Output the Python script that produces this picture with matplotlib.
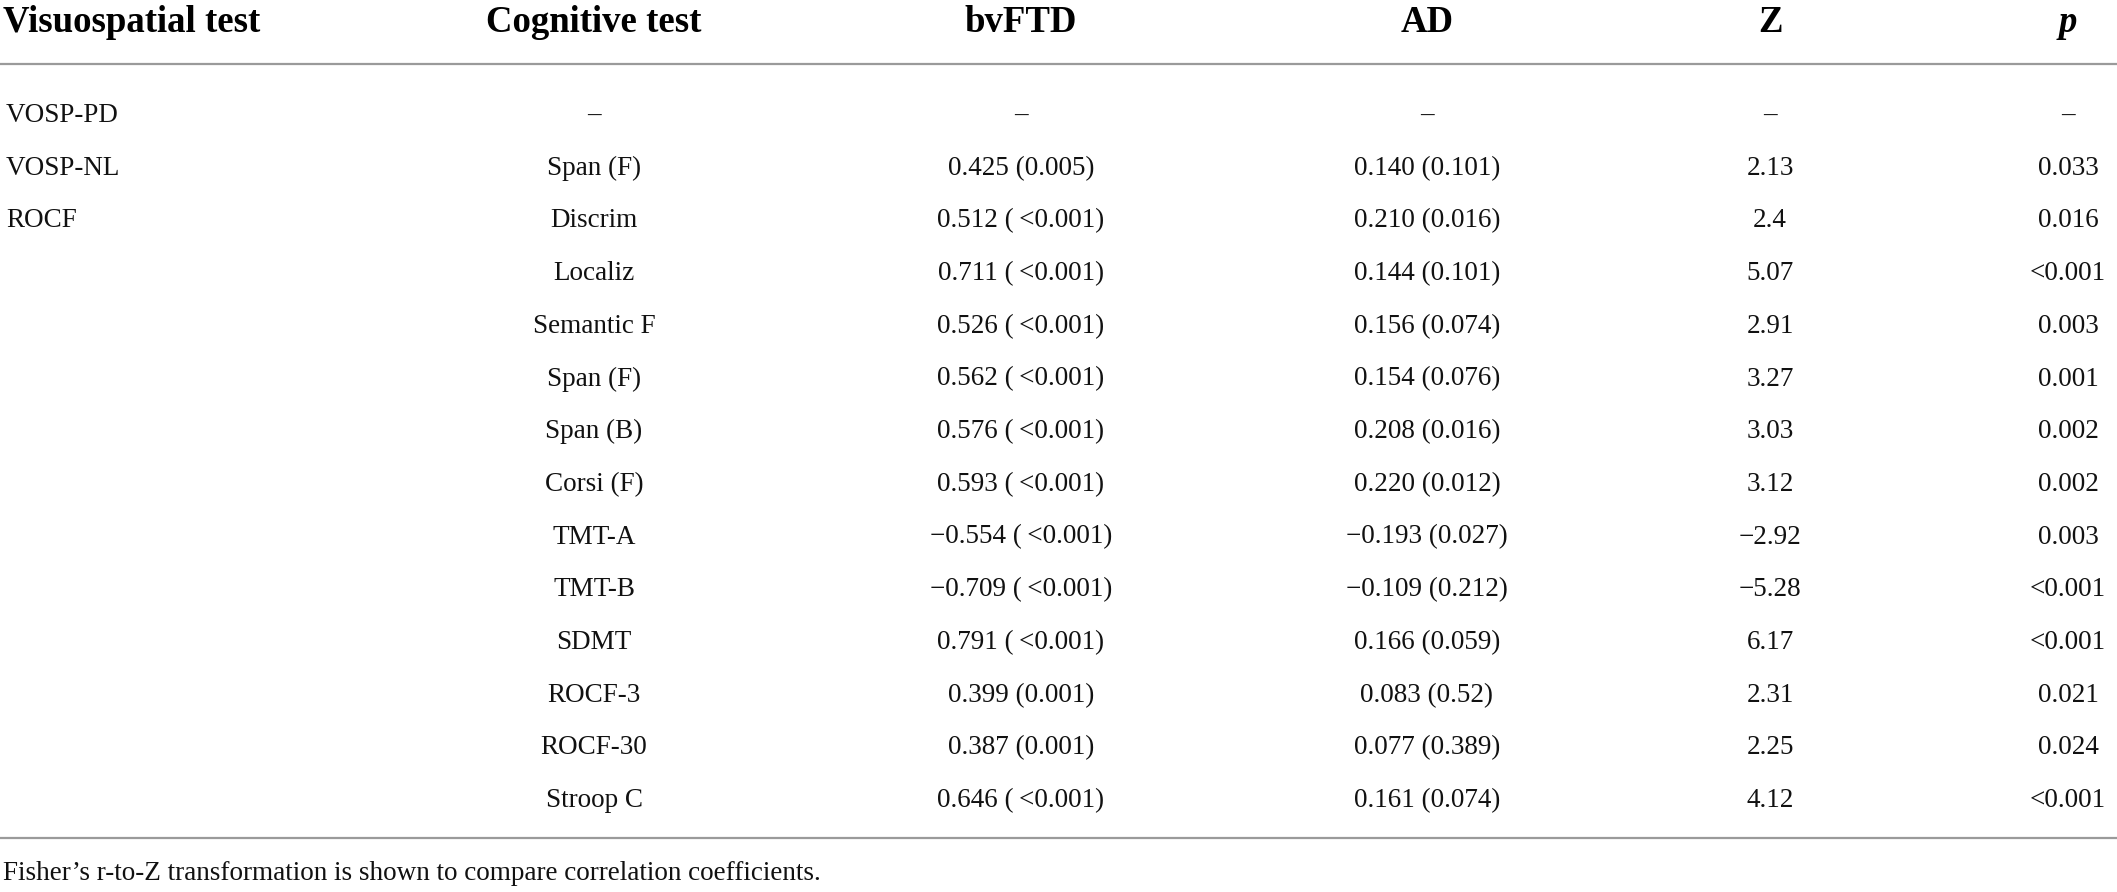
import matplotlib
matplotlib.use('Agg')
import matplotlib.pyplot as plt

# Table content
headers = ['Visuospatial test', 'Cognitive test', 'bvFTD', 'AD', 'Z', 'p']
visuo = ['VOSP-PD', 'VOSP-NL', 'ROCF', '', '', '', '', '', '', '', '', '', '', '']
cognitive = ['–', 'Span (F)', 'Discrim', 'Localiz', 'Semantic F', 'Span (F)', 'Span (B)',
             'Corsi (F)', 'TMT-A', 'TMT-B', 'SDMT', 'ROCF-3', 'ROCF-30', 'Stroop C']
bvftd = ['–', '0.425 (0.005)', '0.512 (\u2009<0.001)', '0.711 (\u2009<0.001)',
         '0.526 (\u2009<0.001)', '0.562 (\u2009<0.001)', '0.576 (\u2009<0.001)',
         '0.593 (\u2009<0.001)', '\u22120.554 (\u2009<0.001)', '\u22120.709 (\u2009<0.001)',
         '0.791 (\u2009<0.001)', '0.399 (0.001)', '0.387 (0.001)', '0.646 (\u2009<0.001)']
ad = ['–', '0.140 (0.101)', '0.210 (0.016)', '0.144 (0.101)', '0.156 (0.074)',
      '0.154 (0.076)', '0.208 (0.016)', '0.220 (0.012)', '\u22120.193 (0.027)',
      '\u22120.109 (0.212)', '0.166 (0.059)', '0.083 (0.52)', '0.077 (0.389)',
      '0.161 (0.074)']
z_vals = ['–', '2.13', '2.4', '5.07', '2.91', '3.27', '3.03', '3.12', '\u22122.92',
          '\u22125.28', '6.17', '2.31', '2.25', '4.12']
p_vals = ['–', '0.033', '0.016', '<0.001', '0.003', '0.001', '0.002', '0.002', '0.003',
          '<0.001', '<0.001', '0.021', '0.024', '<0.001']
footnote = 'Fisher\u2019s r-to-Z transformation is shown to compare correlation coefficients.'

W, H = 2117, 892
fig = plt.figure(figsize=(W / 100, H / 100), dpi=100)
ax = fig.add_axes([0, 0, 1, 1])
ax.set_xlim(0, W)
ax.set_ylim(H, 0)
ax.axis('off')

font = 'Liberation Serif'
body_size = 19.5
head_size = 26.5
col_x = [3, 594, 1021, 1427, 1770, 2068]
col_ha = ['left', 'center', 'center', 'center', 'center', 'center']

# header row
for h, x, ha in zip(headers, col_x, col_ha):
    style = 'italic' if h == 'p' else 'normal'
    ax.text(x, 32, h, ha=ha, va='baseline', fontsize=head_size, fontweight='bold',
            fontstyle=style, family=font)

ax.axhline(64, color='#9a9a9a', lw=1.6)

# body rows (baselines)
row_y0, row_step = 122, 52.7
columns = [visuo, cognitive, bvftd, ad, z_vals, p_vals]
for r in range(len(cognitive)):
    y = row_y0 + r * row_step
    for col, x, ha in zip(columns, col_x, col_ha):
        if col[r]:
            ax.text(x + (3 if ha == 'left' else 0), y, col[r], ha=ha, va='baseline',
                    fontsize=body_size, family=font, color='#111111')

ax.axhline(838, color='#9a9a9a', lw=1.6)
ax.text(3, 880, footnote, ha='left', va='baseline', fontsize=body_size, family=font,
        color='#111111')

fig.savefig('out.png', dpi=100, facecolor='white')
